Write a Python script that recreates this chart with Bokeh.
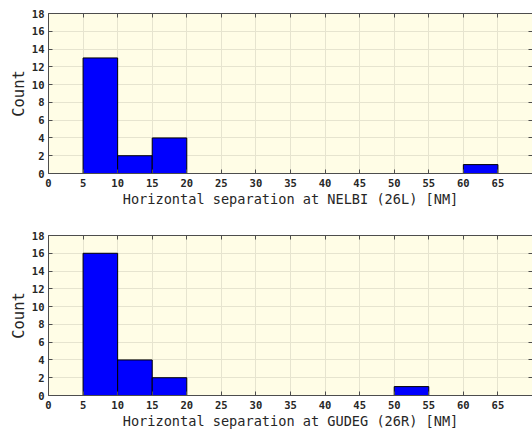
from bokeh.plotting import figure
from bokeh.layouts import column
from bokeh.models import LinearAxis, FixedTicker, Range1d, ColumnDataSource
from bokeh.embed import file_html
from bokeh.resources import INLINE

bin_edges = [0, 5, 10, 15, 20, 25, 30, 35, 40, 45, 50, 55, 60, 65, 70]
counts_nelbi = [0, 13, 2, 4, 0, 0, 0, 0, 0, 0, 0, 0, 1, 0]
counts_gudeg = [0, 16, 4, 2, 0, 0, 0, 0, 0, 0, 1, 0, 0, 0]
x_ticks = [0, 5, 10, 15, 20, 25, 30, 35, 40, 45, 50, 55, 60, 65]
y_ticks = [0, 2, 4, 6, 8, 10, 12, 14, 16, 18]
labels = ["Horizontal separation at NELBI (26L) [NM]",
          "Horizontal separation at GUDEG (26R) [NM]"]

FONT = "DejaVu Sans Mono"
BG = "#fffde6"
GRID = "#e6e4cf"
AX = "#4d4d4d"
TXT = "#262626"


def style_plain(ax, line=True):
    ax.major_tick_in = 4
    ax.major_tick_out = 0
    ax.minor_tick_line_color = None
    ax.axis_line_color = AX if line else None
    ax.major_tick_line_color = AX
    ax.major_label_text_color = None
    ax.major_label_text_font_size = "1px"
    ax.major_label_standoff = 0
    ax.axis_label = None


def make(counts, xlabel, top_border, bottom_border):
    left = [bin_edges[i] for i, c in enumerate(counts) if c > 0]
    right = [bin_edges[i + 1] for i, c in enumerate(counts) if c > 0]
    top = [c for c in counts if c > 0]
    src = ColumnDataSource(dict(left=left, right=right, top=top, bottom=[0] * len(top)))
    p = figure(width=532, height=top_border + 160 + bottom_border,
               x_range=Range1d(0, 70), y_range=Range1d(0, 18),
               output_backend="svg", toolbar_location=None,
               min_border_left=48, min_border_right=0,
               min_border_top=top_border, min_border_bottom=bottom_border)
    p.background_fill_color = BG
    p.border_fill_color = "white"
    p.outline_line_color = None
    p.quad(left="left", right="right", top="top", bottom="bottom", source=src,
           fill_color="#0000ff", line_color="#000000", line_width=1)
    p.xaxis.ticker = FixedTicker(ticks=x_ticks)
    p.yaxis.ticker = FixedTicker(ticks=y_ticks)
    for ax in (p.xaxis[0], p.yaxis[0]):
        ax.major_tick_in = 4
        ax.major_tick_out = 0
        ax.minor_tick_line_color = None
        ax.axis_line_color = AX
        ax.major_tick_line_color = AX
        ax.major_label_text_font = FONT
        ax.major_label_text_font_size = "10.5px"
        ax.major_label_text_font_style = "bold"
        ax.major_label_text_color = TXT
        ax.axis_label_text_font = FONT
        ax.axis_label_text_font_style = "normal"
        ax.axis_label_text_color = TXT
    p.xaxis.axis_label_text_font_size = "13.6px"
    p.yaxis.axis_label_text_font_size = "15.5px"
    p.xaxis.major_label_standoff = 5
    p.yaxis.major_label_standoff = 4
    p.xaxis.axis_label = xlabel
    p.xaxis.axis_label_standoff = 1
    p.yaxis.axis_label = "Count"
    p.yaxis.axis_label_standoff = 1
    p.xgrid.grid_line_color = GRID
    p.ygrid.grid_line_color = GRID
    p.xgrid.ticker = FixedTicker(ticks=x_ticks)
    p.ygrid.ticker = FixedTicker(ticks=y_ticks)

    top_ax = LinearAxis(ticker=FixedTicker(ticks=x_ticks))
    style_plain(top_ax, line=True)
    p.add_layout(top_ax, "above")
    right_ax = LinearAxis(ticker=FixedTicker(ticks=y_ticks))
    style_plain(right_ax, line=False)
    p.add_layout(right_ax, "right")
    return p


p1 = make(counts_nelbi, labels[0], 13, 43)
p2 = make(counts_gudeg, labels[1], 19, 37)
layout = column(p1, p2, spacing=0)

open("out.html", "w").write(file_html(layout, INLINE))
